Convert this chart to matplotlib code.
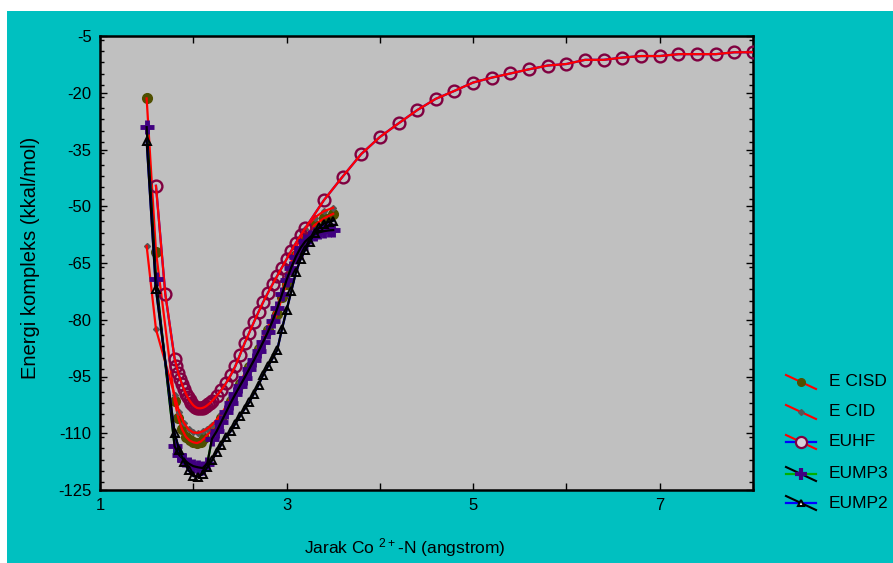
import matplotlib
matplotlib.use('Agg')
import matplotlib.pyplot as plt
import matplotlib.ticker as mticker
from matplotlib.lines import Line2D
from matplotlib.patches import Rectangle

plt.rcParams['font.family'] = ['Liberation Sans', 'DejaVu Sans']
plt.rcParams['axes.unicode_minus'] = False
plt.rcParams['mathtext.fontset'] = 'custom'
plt.rcParams['mathtext.rm'] = 'Liberation Sans'
plt.rcParams['mathtext.default'] = 'rm'

# ---- data ----
cisd_x = [1.5, 1.6, 1.8, 1.84, 1.88, 1.92, 1.96, 2.0, 2.04, 2.08, 2.12, 2.2, 2.3, 2.4, 2.5,
          2.6, 2.7, 2.8, 2.9, 2.95, 3.0, 3.1, 3.2, 3.3, 3.4, 3.5]
cisd_y = [-21.5, -62.0, -101.5, -106.0, -109.0, -110.9, -111.9, -112.4, -112.6, -112.2, -111.3,
          -109.0, -106.0, -101.5, -97.0, -92.5, -87.8, -82.8, -78.5, -74.0, -70.5, -63.0,
          -58.0, -55.0, -53.2, -52.0]

cid_x = [1.5, 1.6, 1.8, 1.85, 1.9, 1.95, 2.0, 2.05, 2.1, 2.15, 2.2, 2.3, 2.4, 2.5, 2.6, 2.7,
         2.8, 2.9, 3.0, 3.1, 3.2, 3.3, 3.4, 3.5]
cid_y = [-60.5, -82.5, -100.0, -104.5, -107.3, -109.0, -109.8, -109.9, -109.5, -108.8, -107.8,
         -105.0, -100.8, -96.5, -92.0, -87.2, -82.0, -76.5, -68.5, -61.0, -56.0, -53.0,
         -51.3, -50.4]

uhf_x = [1.6, 1.7, 1.8, 1.82, 1.84, 1.86, 1.88, 1.9, 1.92, 1.94, 1.96, 1.98, 2.0, 2.02, 2.04,
         2.06, 2.08, 2.1, 2.12, 2.14, 2.16, 2.18, 2.2, 2.25, 2.3, 2.35, 2.4, 2.45, 2.5, 2.55,
         2.6, 2.65, 2.7, 2.75, 2.8, 2.85, 2.9, 2.95, 3.0, 3.05, 3.1, 3.15, 3.2, 3.4, 3.6, 3.8,
         4.0, 4.2, 4.4, 4.6, 4.8, 5.0, 5.2, 5.4, 5.6, 5.8, 6.0, 6.2, 6.4, 6.6, 6.8, 7.0, 7.2,
         7.4, 7.6, 7.8, 8.0]
uhf_y = [-44.6, -73.2, -90.3, -92.3, -94.1, -95.7, -97.1, -98.4, -99.5, -100.5, -101.3, -102.0,
         -102.6, -103.0, -103.3, -103.4, -103.4, -103.3, -103.1, -102.8, -102.4, -102.0, -101.5,
         -100.1, -98.6, -96.8, -94.7, -92.3, -89.3, -86.2, -83.4, -80.6, -77.9, -75.3, -72.9,
         -70.6, -68.4, -66.2, -64.0, -61.8, -59.7, -57.7, -55.8, -48.4, -42.2, -36.2, -31.7,
         -28.1, -24.6, -21.6, -19.5, -17.3, -16.0, -14.9, -13.8, -12.8, -12.4, -11.3, -11.3,
         -10.7, -10.3, -10.3, -9.8, -9.8, -9.8, -9.3, -9.3]

mp3_x = [1.5, 1.6, 1.8, 1.85, 1.9, 1.95, 2.0, 2.05, 2.1, 2.15, 2.2, 2.25, 2.3, 2.35, 2.4, 2.45,
         2.5, 2.55, 2.6, 2.65, 2.7, 2.75, 2.8, 2.85, 2.9, 2.95, 3.0, 3.05, 3.1, 3.15, 3.2, 3.25,
         3.3, 3.35, 3.4, 3.45, 3.5]
mp3_y = [-29.1, -69.3, -113.5, -115.8, -117.0, -118.0, -118.7, -119.0, -119.2, -118.0, -111.5,
         -109.5, -107.0, -104.5, -102.0, -99.7, -97.5, -95.3, -93.0, -90.7, -88.3, -85.8,
         -83.2, -80.3, -77.0, -73.3, -69.5, -66.2, -63.3, -61.0, -59.3, -58.2, -57.4, -56.9,
         -56.6, -56.4, -56.3]

mp2_x = [1.5, 1.6, 1.8, 1.85, 1.9, 1.95, 2.0, 2.05, 2.1, 2.15, 2.2, 2.25, 2.3, 2.35, 2.4, 2.45,
         2.5, 2.55, 2.6, 2.65, 2.7, 2.75, 2.8, 2.85, 2.9, 2.95, 3.0, 3.05, 3.1, 3.15, 3.2, 3.25,
         3.3, 3.35, 3.4, 3.45, 3.5]
mp2_y = [-32.7, -72.0, -110.0, -114.5, -117.5, -119.8, -121.3, -121.5, -120.8, -119.0, -117.2,
         -115.0, -113.0, -111.0, -109.5, -107.5, -105.5, -103.6, -101.8, -99.5, -97.2, -94.5,
         -92.3, -90.2, -88.0, -82.5, -77.5, -72.5, -67.5, -64.0, -61.5, -59.4, -57.2, -55.6,
         -54.6, -54.2, -53.8]

x_ticks = [1, 2, 3, 4, 5, 6, 7, 8]
y_ticks = [-125, -110, -95, -80, -65, -50, -35, -20, -5]

TEAL = '#00C0C0'
W, H = 893, 563


def fx(px):
    return px / W


def fy(py):
    return 1 - py / H


fig = plt.figure(figsize=(W / 100, H / 100), dpi=100)
fig.patch.set_facecolor('white')
fig.add_artist(Rectangle((fx(7), 0), 1 - fx(7), fy(11), transform=fig.transFigure,
                         facecolor=TEAL, edgecolor='none', zorder=-10))

ax = fig.add_axes([fx(100), fy(490), fx(653), 454 / H])
ax.set_facecolor('#C0C0C0')

# series: (x, y, marker style, data line colour, fit line colour)
STYLES = [
    (cisd_x, cisd_y, dict(marker='o', ms=7, mfc='#4f4f00', mec='#4f4f00'), None, 'red'),
    (cid_x, cid_y, dict(marker='D', ms=3, mfc='#555555', mec='#555555'), None, 'red'),
    (uhf_x, uhf_y, dict(marker='o', ms=8.5, mfc='none', mec='#800040', mew=1.7), 'blue', 'red'),
    (mp3_x, mp3_y, dict(marker='+', ms=10.5, mec='#400080', mew=3.5), '#00B000', 'black'),
    (mp2_x, mp2_y, dict(marker='^', ms=6, mfc='none', mec='black', mew=1.4), 'blue', 'black'),
]

z = 2
for xs, ys, mk, dcol, fcol in STYLES:
    if dcol:
        ax.plot(xs, ys, color=dcol, lw=1.6, zorder=z)
    ax.plot(xs, ys, ls='none', zorder=z + 1, **mk)
    ax.plot(xs, ys, color=fcol, lw=1.6, zorder=z + 2)
    z += 3

ax.set_xlim(1, 8)
ax.set_ylim(-125, -5)
ax.xaxis.set_major_locator(mticker.FixedLocator(x_ticks))
ax.xaxis.set_major_formatter(mticker.FuncFormatter(lambda v, p: f'{int(v)}' if int(v) % 2 == 1 else ''))
ax.yaxis.set_major_locator(mticker.FixedLocator(y_ticks))
ax.yaxis.set_minor_locator(mticker.MultipleLocator(3))
ax.yaxis.set_major_formatter(mticker.FuncFormatter(lambda v, p: f'{int(v)}'))
ax.tick_params(which='both', direction='in', top=True, right=True, labelsize=12, width=1)
ax.tick_params(which='major', length=5, pad=6)
ax.tick_params(which='minor', length=3)
for s in ax.spines.values():
    s.set_linewidth(1.8)

fig.text(fx(405), fy(548), 'Jarak Co $^{2+}$-N (angstrom)', ha='center', va='center', fontsize=12.5)
fig.text(fx(31), fy(258), 'Energi kompleks (kkal/mol)', ha='center', va='center', rotation=90,
         fontsize=14.5)

# legend, drawn by hand like the original
legend_rows = [
    ('E CISD', 382, 'red', None, dict(marker='o', ms=5.5, mfc='#4f4f00', mec='#4f4f00')),
    ('E CID', 412, 'red', None, dict(marker='D', ms=3, mfc='#555555', mec='#555555')),
    ('EUHF', 442, 'red', 'blue', dict(marker='o', ms=8, mfc='#d8d0d8', mec='#800040', mew=1.6)),
    ('EUMP3', 474, 'black', '#00B000', dict(marker='+', ms=9, mec='#400080', mew=3)),
    ('EUMP2', 503, 'black', 'blue', dict(marker='^', ms=5, mfc='white', mec='black', mew=1.5)),
]
for label, yy, diag, horiz, mk in legend_rows:
    if horiz:
        fig.add_artist(Line2D([fx(786), fx(816)], [fy(yy), fy(yy)], color=horiz, lw=1.6,
                              transform=fig.transFigure))
    fig.add_artist(Line2D([fx(786), fx(816)], [fy(yy - 7), fy(yy + 7)], color=diag, lw=1.5,
                          transform=fig.transFigure))
    fig.add_artist(Line2D([fx(801)], [fy(yy)], ls='none', transform=fig.transFigure, **mk))
    fig.text(fx(829), fy(yy), label, ha='left', va='center', fontsize=12.5)

fig.savefig('out.png', dpi=100)
